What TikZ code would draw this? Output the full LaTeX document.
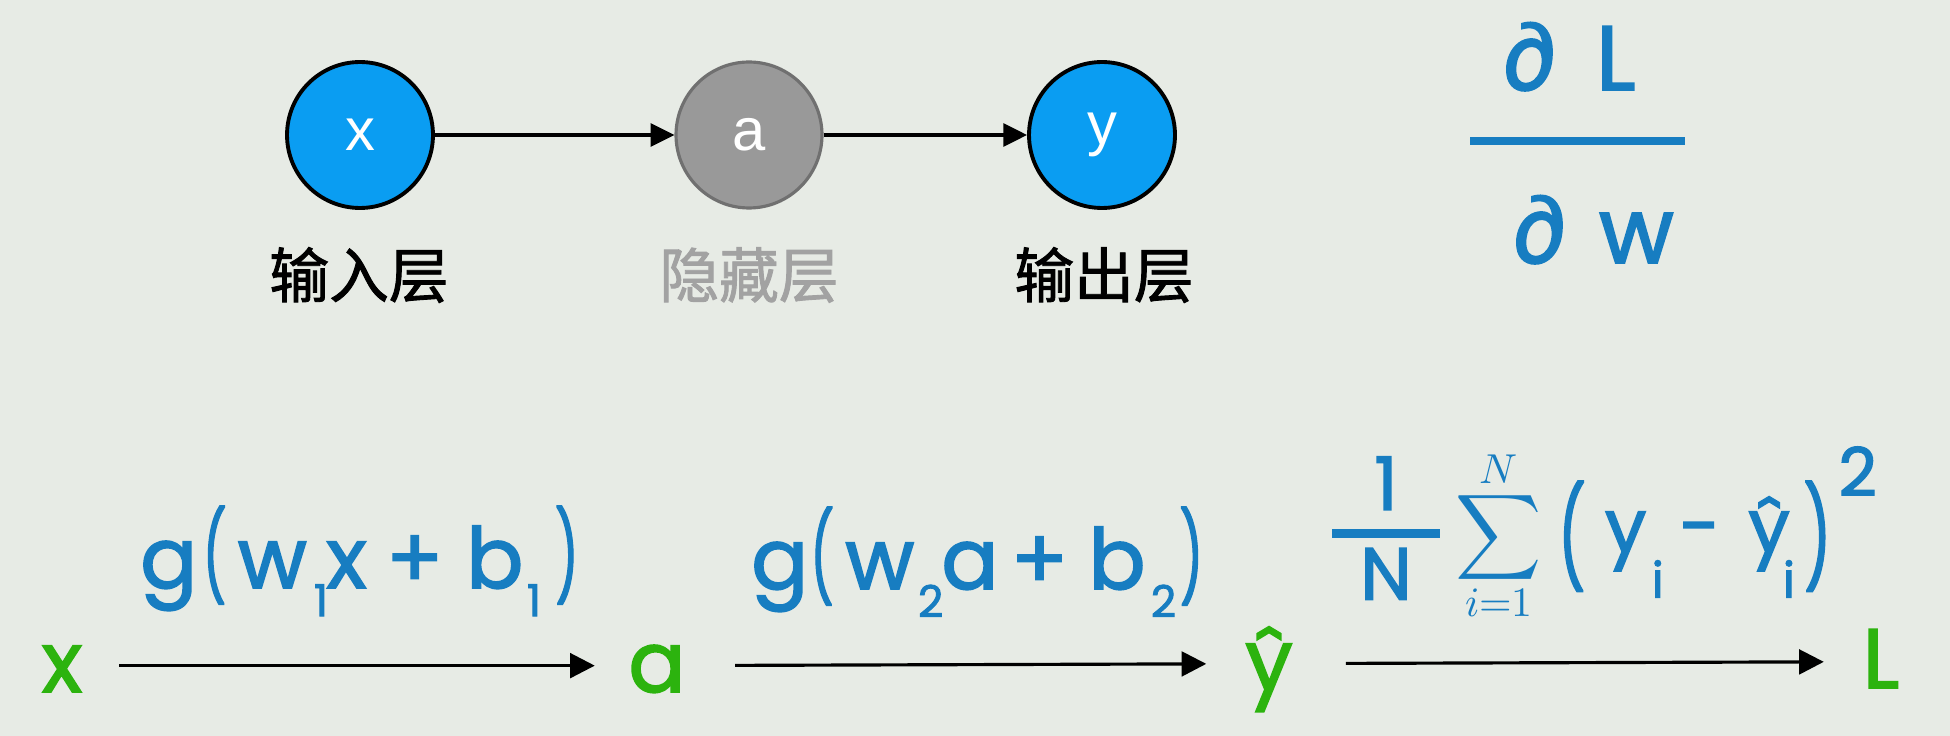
\documentclass[tikz,border=0pt]{standalone}
\usepackage{amsmath}
\usepackage{graphicx}
\usepackage{unicode-math}
\setmathfont{Latin Modern Math}
\usetikzlibrary{arrows.meta}
\newfontfamily\hand{Poppins}[FakeBold=2]
\newfontfamily\cjk{Noto Sans CJK SC}[FakeBold=1.5]
\newfontfamily\circfont{Liberation Sans}
\definecolor{bg}{RGB}{231,235,229}
\definecolor{nodeblue}{RGB}{10,157,242}
\definecolor{nodegray}{RGB}{153,153,153}
\definecolor{nodegrayedge}{RGB}{112,112,112}
\definecolor{graytext}{RGB}{162,162,162}
\definecolor{fblue}{RGB}{23,125,193}
\definecolor{fgreen}{RGB}{44,179,14}
\newcommand\lowsub[1]{\raisebox{-16pt}{\fontsize{25}{25}\selectfont #1}}
\newcommand\lowsubi[1]{\raisebox{-26pt}{\fontsize{28}{28}\selectfont #1}}
\newcommand\thinparen[1]{\scalebox{0.62}[1.04]{#1}}
\newcommand\bigparen[1]{\raisebox{-12pt}{\scalebox{0.62}[1]{\fontsize{56}{56}\selectfont #1}}}
\begin{document}
\begin{tikzpicture}[x=0.02cm,y=-0.02cm,
  neuron/.style={circle,draw=black,line width=2.2pt,fill=nodeblue,minimum size=2.92cm,inner sep=0pt,text=white,font=\circfont\fontsize{34}{40}\selectfont},
  hiddenneuron/.style={neuron,fill=nodegray,draw=nodegrayedge,line width=1.8pt},
  layerlabel/.style={font=\cjk\fontsize{34}{40}\selectfont,inner sep=0pt},
  toparrow/.style={-{Triangle[length=13.5pt,width=13pt]},line width=1.9pt},
  botarrow/.style={-{Triangle[length=14pt,width=14pt]},line width=1.8pt},
  var/.style={text=fgreen,font=\hand\fontsize{48}{56}\selectfont,inner sep=0pt,text height=30pt,text depth=0pt,anchor=base},
  flabel/.style={text=fblue,font=\hand\fontsize{48}{56}\selectfont,inner sep=0pt,anchor=base west},
  fracpart/.style={text=fblue,font=\hand\fontsize{52}{60}\selectfont,inner sep=0pt,anchor=base west}
]
\useasboundingbox[fill=bg] (0,0) rectangle (1950,736);

% top network
\node[neuron] (nx) at (360,135) {x};
\node[hiddenneuron] (na) at (749,135) {a};
\node[neuron] (ny) at (1102,135) {y};
\draw[toparrow] (nx) -- (na);
\draw[toparrow] (na) -- (ny);
\node[layerlabel] (lx) at (359,275) {输入层};
\node[layerlabel,text=graytext] (la) at (749,275) {隐藏层};
\node[layerlabel] (ly) at (1104,275) {输出层};

% dL/dw
\node[fracpart] (dl) at (1503,90) {∂\kern23pt L};
\node[fracpart] (dw) at (1513,263) {∂\kern19pt w};
\draw[fblue,line width=4pt] (1470,141) -- (1685,141);

% bottom chain
\node[var] (bx) at (62,692) {x};
\node[var] (ba) at (657,692) {a};
\node[var] (byh) at (1269,690) {ŷ};
\node[var] (bl) at (1881,688) {L};
\draw[botarrow,shorten <=21pt,shorten >=19pt] (bx) -- (ba);
\draw[botarrow,shorten <=28pt,shorten >=22pt] (ba) -- (byh);
\draw[botarrow,shorten <=30pt,shorten >=22pt] (byh) -- (bl);

\node[flabel] (f1) at (140,588) {g\kern3pt\thinparen{(}\kern6.5pt w\kern4pt\lowsub{1}\kern-1pt x\kern11pt+\kern13pt b\kern2pt\lowsub{1}\kern8pt\thinparen{)}};
\node[flabel] (f2) at (751,589) {g\kern1pt\thinparen{(}\kern6.5pt w\kern2pt\lowsub{2}\kern-1pt a\kern7pt+\kern11.5pt b\kern3pt\lowsub{2}\kern2pt\thinparen{)}};
\node[text=fblue,font=\hand\fontsize{42}{50}\selectfont,inner sep=0pt,anchor=base west] (f3) at (1330,552)
  {$\displaystyle\genfrac{}{}{5pt}{0}{\raisebox{-4.5pt}[0pt][0pt]{\makebox[61pt]{1}}}{\raisebox{1.7pt}[0pt][0pt]{\makebox[61pt]{N}}}$\kern8pt{\fontsize{34}{40}\selectfont$\displaystyle\sum_{i=1}^{N}$}\kern9pt\bigparen{(}\kern11pt y\kern3pt\lowsubi{i}\kern9pt-\kern16pt ŷ\kern-4pt\lowsubi{i}\kern5pt\bigparen{)}\kern4pt\raisebox{32pt}{\fontsize{38}{38}\selectfont 2}};
\end{tikzpicture}
\end{document}
